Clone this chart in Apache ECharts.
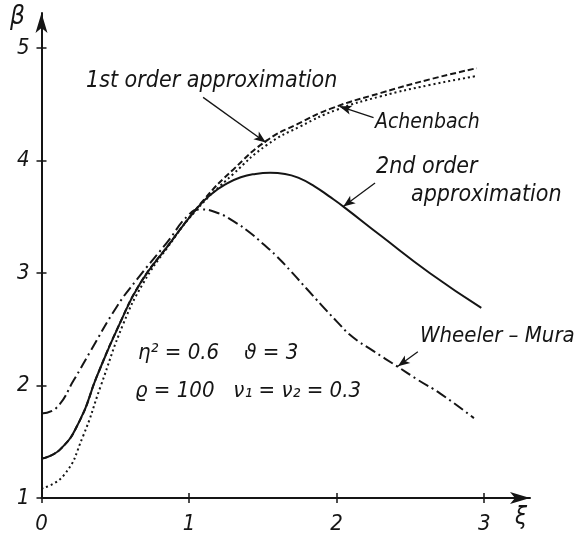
<!DOCTYPE html>
<html>
<head>
<meta charset="utf-8">
<script src="https://cdn.jsdelivr.net/npm/echarts@6/dist/echarts.min.js"></script>
<style>
  html, body { margin: 0; padding: 0; background: #fff; }
  #main { width: 585px; height: 538px; }
</style>
</head>
<body>
<div id="main"></div>
<script>
// values (xi, beta)
const xTicks = [0, 1, 2, 3];
const yTicks = [1, 2, 3, 4, 5];

const secondXi = [0, 0.125, 0.26, 0.375, 0.53, 0.67, 0.85, 1.05, 1.15, 1.25, 1.35, 1.45, 1.55, 1.65, 1.75, 1.85, 1.95, 2.05, 2.3, 2.63, 2.98];
const secondBeta = [1.35, 1.43, 1.69, 2.08, 2.55, 2.91, 3.23, 3.57, 3.7, 3.79, 3.85, 3.88, 3.89, 3.88, 3.84, 3.77, 3.68, 3.585, 3.33, 3.0, 2.69];

const firstXi = [0, 0.125, 0.26, 0.375, 0.53, 0.67, 0.85, 1.1, 1.3, 1.53, 1.73, 1.96, 2.3, 2.63, 2.95];
const firstBeta = [1.35, 1.43, 1.69, 2.08, 2.55, 2.91, 3.23, 3.65, 3.92, 4.18, 4.32, 4.46, 4.6, 4.72, 4.82];

const achXi = [0, 0.15, 0.28, 0.4, 0.555, 0.69, 0.85, 1.05, 1.3, 1.53, 1.75, 2.0, 2.3, 2.63, 2.95];
const achBeta = [1.085, 1.2, 1.545, 1.99, 2.55, 2.91, 3.22, 3.56, 3.88, 4.14, 4.3, 4.45, 4.57, 4.67, 4.75];

const wmXi = [0, 0.1, 0.22, 0.33, 0.51, 0.645, 0.85, 1.0, 1.08, 1.2, 1.3, 1.4, 1.5, 1.6, 1.7, 1.8, 1.9, 2.0, 2.1, 2.25, 2.41, 2.55, 2.7, 2.93];
const wmBeta = [1.75, 1.8, 2.05, 2.3, 2.7, 2.94, 3.27, 3.52, 3.565, 3.53, 3.46, 3.37, 3.26, 3.14, 3.0, 2.855, 2.71, 2.57, 2.44, 2.305, 2.17, 2.05, 1.93, 1.71];

const ink = "#151515";
const font = "DejaVu Sans Condensed, DejaVu Sans, sans-serif";

function pairs(xs, ys) {
  return xs.map(function (x, i) { return [x, ys[i]]; });
}

function leader(from, to) {
  return {
    silent: true,
    symbol: ["none", "arrow"],
    symbolSize: [7, 12],
    label: { show: false },
    lineStyle: { color: ink, width: 1.3, type: "solid" },
    data: [[{ coord: from }, { coord: to }]],
  };
}

function lineSeries(name, data, type, mark) {
  return {
    name: name,
    type: "line",
    data: data,
    smooth: 0.5,
    showSymbol: false,
    silent: true,
    lineStyle: { color: ink, width: 2, type: type },
    markLine: mark,
  };
}

const axisBase = {
  type: "value",
  splitLine: { show: false },
};

const option = {
  animation: false,
  grid: { left: 41.5, right: 55, top: 13, bottom: 40 },
  xAxis: [
    Object.assign({}, axisBase, {
      min: 0,
      max: 3.31,
      interval: 1,
      axisLine: {
        onZero: false,
        symbol: ["none", "arrow"],
        symbolSize: [9, 20],
        lineStyle: { color: ink, width: 2 },
      },
      axisTick: { customValues: xTicks, length: 5, lineStyle: { color: ink, width: 1.5 } },
      axisLabel: {
        customValues: xTicks,
        fontSize: 22,
        fontStyle: "italic",
        fontFamily: font,
        color: ink,
        margin: 15,
      },
    }),
    Object.assign({}, axisBase, {
      position: "bottom",
      min: 0,
      max: 3.31,
      interval: 1,
      axisLine: { show: false },
      axisTick: { inside: true, customValues: xTicks, length: 5, lineStyle: { color: ink, width: 1.5 } },
      axisLabel: { show: false },
    }),
  ],
  yAxis: [
    Object.assign({}, axisBase, {
      min: 1,
      max: 5.31,
      interval: 1,
      axisLine: {
        onZero: false,
        symbol: ["none", "arrow"],
        symbolSize: [9, 20],
        lineStyle: { color: ink, width: 2 },
      },
      axisTick: { customValues: yTicks, length: 5, lineStyle: { color: ink, width: 1.5 } },
      axisLabel: {
        customValues: yTicks,
        fontSize: 22,
        fontStyle: "italic",
        fontFamily: font,
        color: ink,
        margin: 12,
      },
    }),
    Object.assign({}, axisBase, {
      position: "left",
      min: 1,
      max: 5.31,
      interval: 1,
      axisLine: { show: false },
      axisTick: { inside: true, customValues: yTicks, length: 5, lineStyle: { color: ink, width: 1.5 } },
      axisLabel: { show: false },
    }),
  ],
  series: [
    lineSeries("1st order approximation", pairs(firstXi, firstBeta), [6, 3], leader([1.095, 4.56], [1.52, 4.16])),
    lineSeries("Achenbach", pairs(achXi, achBeta), [2, 3], leader([2.25, 4.38], [2.02, 4.48])),
    lineSeries("2nd order approximation", pairs(secondXi, secondBeta), "solid", leader([2.26, 3.8], [2.045, 3.59])),
    lineSeries("Wheeler-Mura", pairs(wmXi, wmBeta), [11, 4, 2, 4], leader([2.55, 2.3], [2.415, 2.17])),
  ],
  graphic: [
    { type: "text", left: 10, top: 4, style: { text: "β", font: "italic 26px " + font, fill: ink } },
    { type: "text", left: 515, top: 506, style: { text: "ξ", font: "italic 24px " + font, fill: ink } },
    { type: "text", left: 86, top: 70, style: { text: "1st order approximation", font: "italic 23px " + font, fill: ink } },
    { type: "text", left: 375, top: 112, style: { text: "Achenbach", font: "italic 21px " + font, fill: ink } },
    { type: "text", left: 376, top: 156, style: { text: "2nd order", font: "italic 23px " + font, fill: ink } },
    { type: "text", left: 411, top: 184, style: { text: "approximation", font: "italic 23px " + font, fill: ink } },
    { type: "text", left: 420, top: 325, style: { text: "Wheeler – Mura", font: "italic 22px " + font, fill: ink } },
    { type: "text", left: 138, top: 342, style: { text: "η² = 0.6    ϑ = 3", font: "italic 22px " + font, fill: ink } },
    { type: "text", left: 135, top: 380, style: { text: "ϱ = 100   ν₁ = ν₂ = 0.3", font: "italic 22px " + font, fill: ink } },
  ],
};

let chartDom = document.getElementById("main");
let myChart = echarts.init(chartDom);
option && myChart.setOption(option);
</script>
</body>
</html>
